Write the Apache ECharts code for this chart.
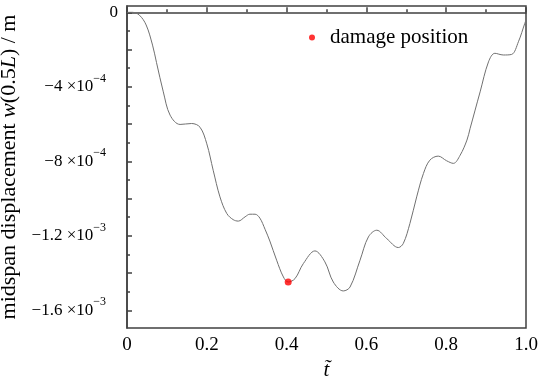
<!DOCTYPE html>
<html>
<head>
<meta charset="utf-8">
<script src="https://cdn.jsdelivr.net/npm/echarts@6/dist/echarts.min.js"></script>
<style>
  html, body { margin: 0; padding: 0; background: #fff; }
  #main { width: 547px; height: 383px; }
</style>
</head>
<body>
<div id="main"></div>
<script>
// dimensionless time t~ and midspan displacement (m)
var tValues = [0, 0.014, 0.031, 0.048, 0.064, 0.074, 0.091, 0.108, 0.133, 0.162, 0.183,
  0.200, 0.216, 0.233, 0.250, 0.266, 0.279, 0.296, 0.308, 0.321, 0.333, 0.346, 0.358,
  0.375, 0.392, 0.404, 0.421, 0.442, 0.471, 0.496, 0.517, 0.542, 0.559, 0.584, 0.605,
  0.626, 0.651, 0.680, 0.6925, 0.709, 0.726, 0.743, 0.759, 0.780, 0.801, 0.818, 0.835,
  0.852, 0.860, 0.885, 0.906, 0.922, 0.943, 0.964, 0.981, 0.997, 1.0];
var wValues = [0, 0, -0.015e-3, -0.068e-3, -0.176e-3, -0.270e-3, -0.427e-3, -0.552e-3,
  -0.602e-3, -0.597e-3, -0.617e-3, -0.706e-3, -0.848e-3, -0.991e-3, -1.080e-3, -1.113e-3,
  -1.121e-3, -1.098e-3, -1.084e-3, -1.084e-3, -1.105e-3, -1.165e-3, -1.228e-3, -1.331e-3,
  -1.421e-3, -1.448e-3, -1.430e-3, -1.349e-3, -1.281e-3, -1.340e-3, -1.448e-3, -1.496e-3,
  -1.475e-3, -1.331e-3, -1.206e-3, -1.170e-3, -1.215e-3, -1.263e-3, -1.241e-3, -1.134e-3,
  -0.991e-3, -0.865e-3, -0.794e-3, -0.772e-3, -0.797e-3, -0.811e-3, -0.767e-3, -0.686e-3,
  -0.623e-3, -0.427e-3, -0.266e-3, -0.220e-3, -0.229e-3, -0.226e-3, -0.158e-3, -0.059e-3,
  -0.041e-3];
var damageT = [0.404];
var damageW = [-1.448e-3];

var yLabelValues = [0, -4e-4, -8e-4, -1.2e-3, -1.6e-3];
var yLabelTexts = ['0', '\u22124 \u00d710{s|\u22124}', '\u22128 \u00d710{s|\u22124}',
  '\u22121.2 \u00d710{s|\u22123}', '\u22121.6 \u00d710{s|\u22123}'];
var yMajorTicks = [0, -2e-4, -4e-4, -6e-4, -8e-4, -1e-3, -1.2e-3, -1.4e-3, -1.6e-3];
var yMinorTicks = [0, -1e-4, -2e-4, -3e-4, -4e-4, -5e-4, -6e-4, -7e-4, -8e-4, -9e-4,
  -1e-3, -1.1e-3, -1.2e-3, -1.3e-3, -1.4e-3, -1.5e-3, -1.6e-3];

var font = 'Liberation Serif';
var axisColor = '#404040';
var yMin = -1.695e-3, yMax = 0.034e-3;

var curve = tValues.map(function (t, i) { return [t, wValues[i]]; });
var damage = damageT.map(function (t, i) { return [t, damageW[i]]; });

var myChart = echarts.init(document.getElementById('main'));
myChart.setOption({
  animation: false,
  grid: [
    { left: 127, right: 21, top: 6, bottom: 55, outerBoundsMode: 'none', containLabel: false,
      show: true, borderColor: axisColor, borderWidth: 1.5 },
    { left: 127, right: 21, top: 6, bottom: 55, outerBoundsMode: 'none', containLabel: false, show: false }
  ],
  legend: {
    data: ['damage position'],
    left: 304, top: 22,
    icon: 'circle',
    itemWidth: 26, itemHeight: 6,
    textStyle: { fontFamily: font, fontSize: 21, color: '#000' }
  },
  xAxis: [{
    type: 'value', gridIndex: 0, min: 0, max: 1, interval: 0.2,
    name: 't\u0303', nameLocation: 'middle', nameGap: 30,
    nameTextStyle: { fontFamily: font, fontSize: 21, fontStyle: 'italic', color: '#000' },
    axisLine: { lineStyle: { color: axisColor, width: 1.5 } },
    axisTick: { inside: true, length: 5, lineStyle: { color: axisColor, width: 1.5 } },
    minorTick: { show: true, splitNumber: 2, length: 3, lineStyle: { color: axisColor, width: 1.5 } },
    splitLine: { show: false },
    axisLabel: {
      margin: 8, fontFamily: font, fontSize: 19, color: '#000',
      formatter: function (v) { return v === 0 ? '0' : v.toFixed(1); }
    }
  }, {
    type: 'value', gridIndex: 1, min: 0, max: 1, show: false
  }],
  yAxis: [{
    type: 'value', gridIndex: 0, min: yMin, max: yMax,
    name: 'midspan displacement {i|w}(0.5{i|L}) / m',
    nameLocation: 'middle', nameGap: 76,
    nameTextStyle: {
      fontFamily: font, fontSize: 22, color: '#000',
      rich: { i: { fontFamily: font, fontSize: 22, fontStyle: 'italic', color: '#000' } }
    },
    axisLine: { lineStyle: { color: axisColor, width: 1.5 } },
    axisTick: { inside: true, length: 5, customValues: yMajorTicks, lineStyle: { color: axisColor, width: 1.5 } },
    splitLine: { show: false },
    axisLabel: {
      margin: 9, fontFamily: font, fontSize: 17, color: '#000',
      customValues: yLabelValues,
      formatter: function (v) {
        for (var i = 0; i < yLabelValues.length; i++) {
          if (Math.abs(v - yLabelValues[i]) < 1e-9) return yLabelTexts[i];
        }
        return '';
      },
      rich: {
        s: { fontFamily: font, fontSize: 12, color: '#000', verticalAlign: 'top', lineHeight: 28, padding: [0, 12, 0, 0] }
      }
    }
  }, {
    type: 'value', gridIndex: 1, min: yMin, max: yMax,
    axisLine: { show: false },
    axisLabel: { show: false },
    splitLine: { show: false },
    axisTick: { inside: true, length: 3, customValues: yMinorTicks, lineStyle: { color: axisColor, width: 1.5 } }
  }],
  series: [{
    name: 'displacement',
    type: 'line',
    xAxisIndex: 0, yAxisIndex: 0,
    data: curve,
    smooth: 0.35,
    showSymbol: false,
    lineStyle: { color: '#707070', width: 1 }
  }, {
    name: 'damage position',
    type: 'scatter',
    xAxisIndex: 0, yAxisIndex: 0,
    data: damage,
    symbolSize: 7,
    itemStyle: { color: '#ff0000' },
    z: 5
  }]
});
</script>
</body>
</html>
